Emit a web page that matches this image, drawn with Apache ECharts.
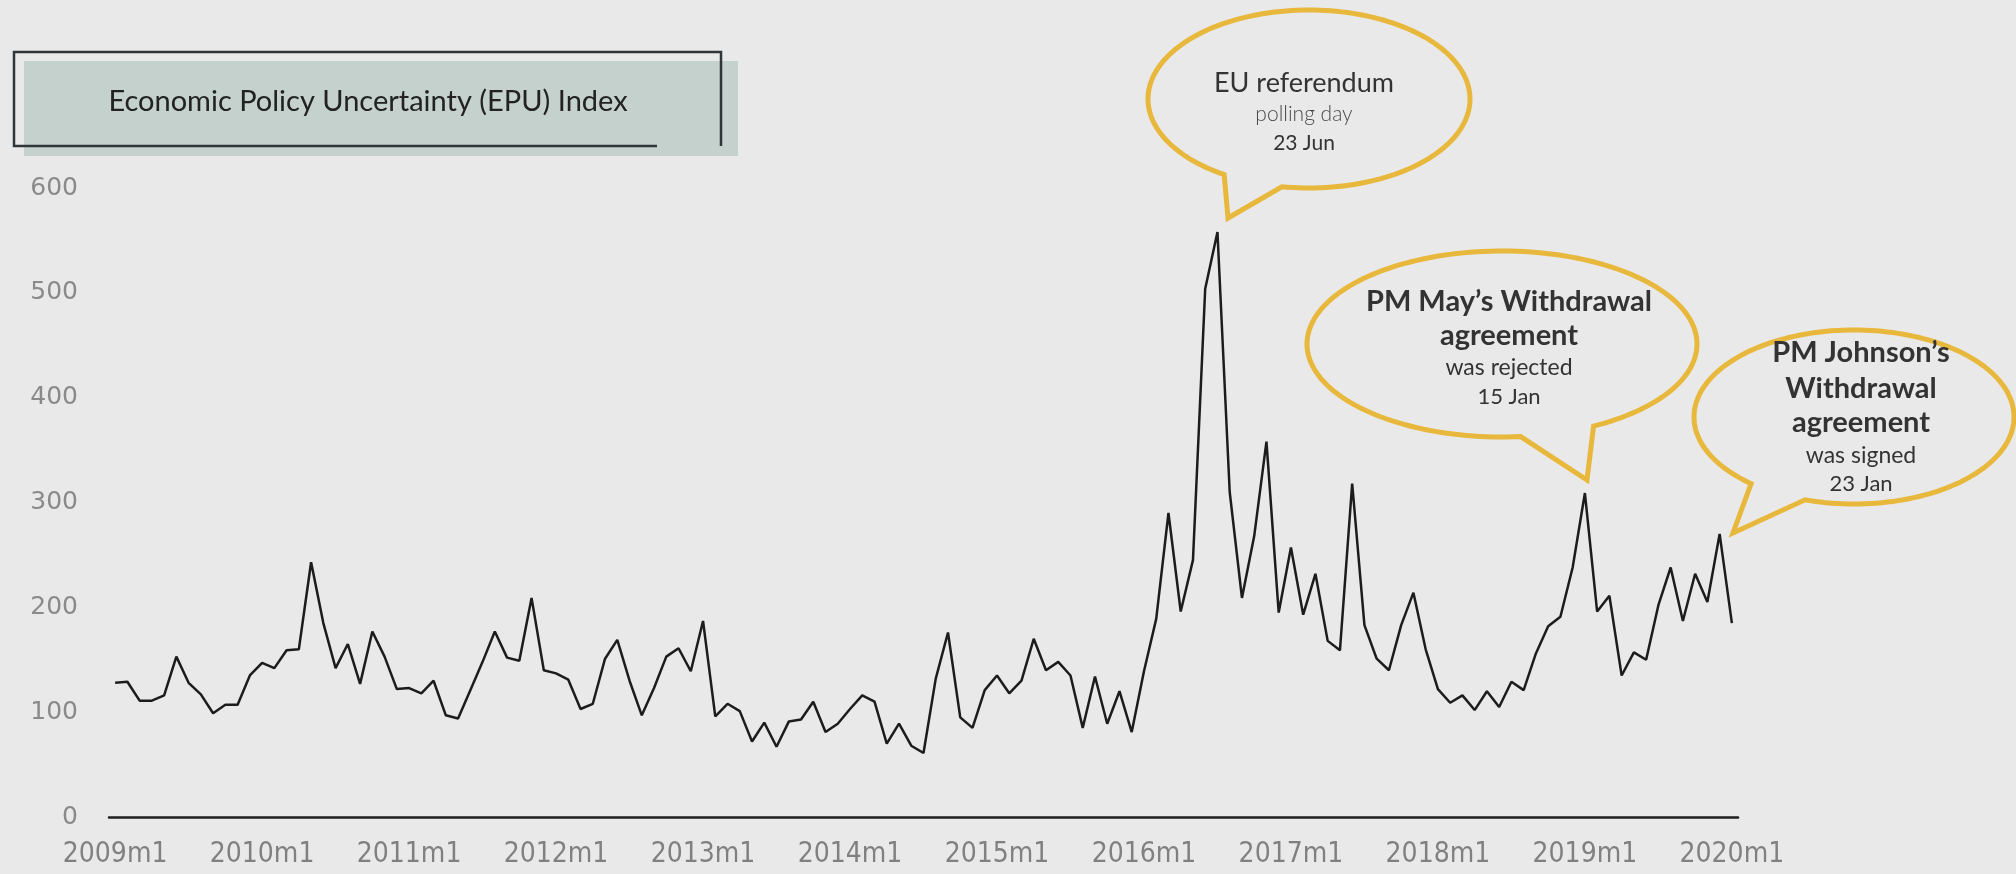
<!DOCTYPE html>
<html>
<head>
<meta charset="utf-8">
<script src="https://cdn.jsdelivr.net/npm/echarts@6/dist/echarts.min.js"></script>
<style>
  html, body { margin: 0; padding: 0; background: #e9e9e9; }
  #main { width: 2016px; height: 874px; }
</style>
</head>
<body>
<div id="main"></div>
<script>
// monthly categories 2009m1 .. 2020m1
var years = [2009, 2010, 2011, 2012, 2013, 2014, 2015, 2016, 2017, 2018, 2019, 2020];
var categories = [];
years.forEach(function (y) {
  for (var m = 1; m <= 12; m++) {
    if (y === 2020 && m > 1) break;
    categories.push(y + 'm' + m);
  }
});

// EPU index
var epu = [
  128, 129, 111, 111, 116, 153, 128, 117,  99, 107, 107, 135,  // 2009
  147, 142, 159, 160, 243, 185, 142, 165, 127, 177, 153, 122,  // 2010
  123, 118, 130,  97,  94, 121, 148, 177, 152, 149, 209, 140,  // 2011
  137, 131, 103, 108, 151, 169, 130,  97, 123, 153, 161, 139,  // 2012
  187,  96, 108, 101,  72,  90,  67,  91,  93, 110,  81,  89,  // 2013
  103, 116, 110,  70,  89,  68,  61, 132, 176,  95,  85, 121,  // 2014
  135, 118, 130, 170, 140, 148, 135,  85, 134,  89, 120,  81,  // 2015
  139, 189, 290, 196, 245, 504, 558, 310, 209, 268, 358, 195,  // 2016
  257, 193, 232, 168, 159, 318, 183, 151, 140, 183, 214, 160,  // 2017
  122, 109, 116, 102, 120, 105, 129, 121, 156, 182, 191, 238,  // 2018
  309, 196, 211, 135, 157, 150, 202, 238, 187, 232, 205, 270,  // 2019
  185                                                           // 2020
];

var yMin = 0, yMax = 600, yStep = 100;

var titleText = 'Economic Policy Uncertainty (EPU) Index';

var bubbles = [
  { cx: 1309, cy: 99, rx: 161, ry: 89, a1: 99.7, a2: 121.8, tip: [1228, 218],
    lines: [
      { t: 'EU referendum', y: 83, size: 27, w: 'normal', c: '#333333' },
      { t: 'polling day', y: 114, size: 21, w: 300, c: '#4a4a4a' },
      { t: '23 Jun', y: 143, size: 21, w: 'normal', c: '#333333' }
    ], tx: 1304 },
  { cx: 1502, cy: 344, rx: 195, ry: 93, a1: 62, a2: 84.5, tip: [1587, 480],
    lines: [
      { t: 'PM May\u2019s Withdrawal', y: 302, size: 29, w: 'bold', c: '#333333' },
      { t: 'agreement', y: 336, size: 29, w: 'bold', c: '#333333' },
      { t: 'was rejected', y: 368, size: 23, w: 'normal', c: '#333333' },
      { t: '15 Jan', y: 397, size: 22, w: 'normal', c: '#333333' }
    ], tx: 1509 },
  { cx: 1854, cy: 417, rx: 160, ry: 87, a1: 107.8, a2: 130, tip: [1733, 533],
    lines: [
      { t: 'PM Johnson\u2019s', y: 353, size: 29, w: 'bold', c: '#333333' },
      { t: 'Withdrawal', y: 389, size: 29, w: 'bold', c: '#333333' },
      { t: 'agreement', y: 423, size: 29, w: 'bold', c: '#333333' },
      { t: 'was signed', y: 456, size: 23, w: 'normal', c: '#333333' },
      { t: '23 Jan', y: 484, size: 22, w: 'normal', c: '#333333' }
    ], tx: 1861 }
];

function bubbleShape(b) {
  var pts = [];
  var end = b.a1 + 360;
  for (var a = b.a2; a < end; a += 2) {
    var r = a * Math.PI / 180;
    pts.push([b.cx + b.rx * Math.cos(r), b.cy + b.ry * Math.sin(r)]);
  }
  var re = end * Math.PI / 180;
  pts.push([b.cx + b.rx * Math.cos(re), b.cy + b.ry * Math.sin(re)]);
  pts.push(b.tip);
  return pts;
}

var graphics = [
  { type: 'rect', shape: { x: 24, y: 61, width: 714, height: 95 },
    style: { fill: '#c5d1cd' }, z: 1 },
  { type: 'polyline', shape: { points: [[657, 146], [14, 146], [14, 52], [721, 52], [721, 146]] },
    style: { stroke: '#2f3538', lineWidth: 2.5, fill: null }, z: 2 },
  { type: 'text', x: 368, y: 102, z: 3,
    style: { text: titleText, font: '29px Lato, "Liberation Sans", sans-serif', fill: '#222222',
             align: 'center', verticalAlign: 'middle', textAlign: 'center', textVerticalAlign: 'middle' } }
];

bubbles.forEach(function (b) {
  graphics.push({
    type: 'polygon', shape: { points: bubbleShape(b) }, z: 5,
    style: { fill: '#e9e9e9', stroke: '#e8b83c', lineWidth: 5, lineJoin: 'miter' }
  });
  b.lines.forEach(function (l) {
    graphics.push({
      type: 'text', x: b.tx, y: l.y, z: 6,
      style: { text: l.t, font: l.w + ' ' + l.size + 'px Lato, "Liberation Sans", sans-serif', fill: l.c,
               align: 'center', verticalAlign: 'middle', textAlign: 'center', textVerticalAlign: 'middle' }
    });
  });
});

var chart = echarts.init(document.getElementById('main'));
chart.setOption({
  backgroundColor: '#e9e9e9',
  animation: false,
  grid: { left: 109, right: 278, top: 188, bottom: 57 },
  xAxis: {
    type: 'category',
    data: categories,
    boundaryGap: true,
    axisLine: { lineStyle: { color: '#1f1f1f', width: 2.5 } },
    axisTick: { show: false },
    axisLabel: {
      interval: 11,
      margin: 24,
      color: '#808080',
      fontSize: 28,
      fontFamily: '"DejaVu Sans Condensed", "Liberation Sans Narrow", sans-serif'
    },
    splitLine: { show: false }
  },
  yAxis: {
    type: 'value',
    min: yMin,
    max: yMax,
    interval: yStep,
    axisLine: { show: false },
    axisTick: { show: false },
    splitLine: { show: false },
    axisLabel: {
      margin: 31,
      color: '#8a8a8a',
      fontSize: 25,
      fontFamily: '"DejaVu Sans", Verdana, sans-serif'
    }
  },
  series: [{
    name: 'EPU',
    type: 'line',
    data: epu,
    symbol: 'none',
    lineStyle: { color: '#1c1c1c', width: 2.5 },
    z: 3
  }],
  graphic: graphics
});
</script>
</body>
</html>
